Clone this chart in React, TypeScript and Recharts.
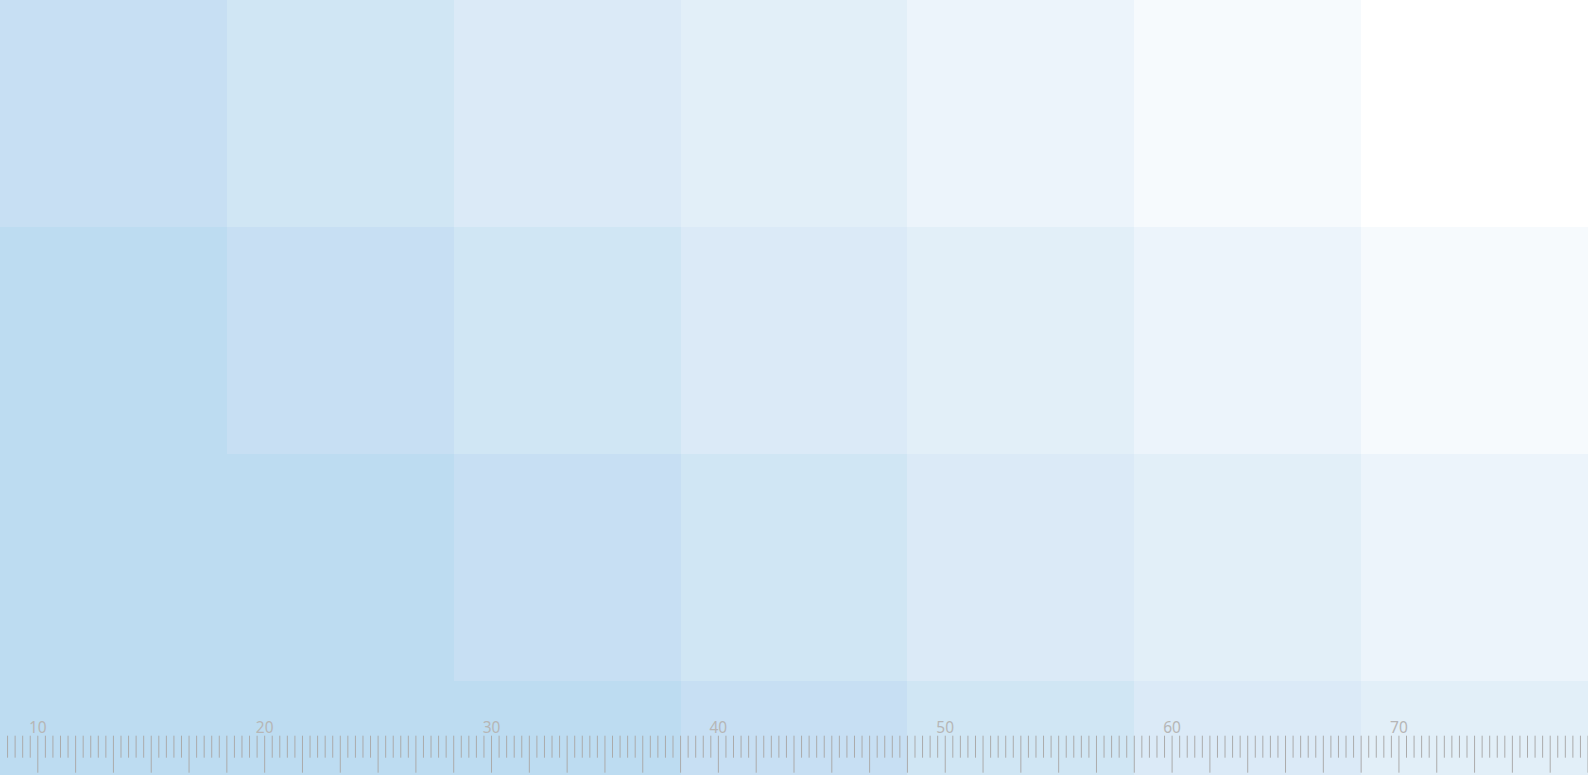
import { ComposedChart, Bar, Scatter, XAxis, YAxis, Cell } from 'recharts';

// heatmap columns (left to right) and the level of each cell, top row first
const columns = ['1', '2', '3', '4', '5', '6', '7'];
const row0 = [0, 1, 2, 3, 4, 5, 6];
const row1 = [-1, 0, 1, 2, 3, 4, 5];
const row2 = [-2, -1, 0, 1, 2, 3, 4];
const row3 = [-3, -2, -1, 0, 1, 2, 3];
const rows = [row0, row1, row2, row3];

// colour for each level, darkest first; anything below -1 uses the darkest
const levels = [-1, 0, 1, 2, 3, 4, 5, 6];
const levelColors = ['#BDDCF1', '#C7DFF3', '#D0E6F4', '#DBEAF7', '#E2EFF8', '#ECF4FB', '#F6FAFD', '#FFFFFF'];

// ruler along the bottom: 210 minor ticks, long every 5th, a label every 30th
const rulerTickCount = 210;
const rulerLabels = ['10', '20', '30', '40', '50', '60', '70'];
const rulerFirstLabelTick = 5;
const rulerLabelEvery = 30;

const WIDTH = 1588;
const HEIGHT = 775;
const RULER_AXIS_H = 1; // an axis of height 0 is not drawn, so it hangs 1px below the page
// plot shows only part of the last row
const visibleRows = HEIGHT / (WIDTH / columns.length);

const data = columns.map((c) => {
  const rec: Record<string, number | string> = { col: c };
  rows.forEach((_, j) => {
    rec['r' + j] = 1;
  });
  return rec;
});

const rulerTicks = Array.from({ length: rulerTickCount }, (_, i) => i + 1);
// two invisible points so the ruler axis has a series bound to it
const rulerAnchor = [
  { k: 0, y: 0 },
  { k: rulerTickCount, y: 0 },
];

function colorFor(v: number) {
  const idx = levels.indexOf(Math.max(v, levels[0]));
  return levelColors[idx];
}

function RulerTick({ x, y, payload }: any) {
  const k = payload.value;
  const long = k % 5 === 0;
  const li = (k - rulerFirstLabelTick) / rulerLabelEvery;
  const label = Number.isInteger(li) ? rulerLabels[li] : undefined;
  return (
    <g>
      <line
        x1={x}
        x2={x}
        y1={y - 39.3}
        y2={long ? y - 2.3 : y - 17.3}
        stroke="#ABABAB"
        strokeWidth={1}
      />
      {label && (
        <text
          x={x}
          y={y - 41.7}
          textAnchor="middle"
          fontSize={15.5}
          fill="#B6B6B6"
          fontFamily="'Noto Sans', sans-serif"
        >
          {label}
        </text>
      )}
    </g>
  );
}

export default function App() {
  return (
    <div
      style={{
        position: 'absolute',
        left: 0,
        top: 0,
        width: WIDTH,
        height: HEIGHT,
        overflow: 'hidden',
      }}
    >
      <style>{`body{margin:0}`}</style>
      <ComposedChart
        width={WIDTH}
        height={HEIGHT + RULER_AXIS_H}
        data={data}
        margin={{ top: 0, right: 0, bottom: 0, left: 0 }}
        barCategoryGap={0}
        barGap={0}
      >
        <XAxis dataKey="col" hide height={0} />
        <YAxis hide reversed domain={[0, visibleRows]} allowDataOverflow />
        <YAxis yAxisId="ruler" hide domain={[0, 1]} />
        {rows.map((r, j) => (
          <Bar key={j} dataKey={'r' + j} stackId="grid" isAnimationActive={false}>
            {r.map((v, i) => (
              <Cell key={i} fill={colorFor(v)} shapeRendering="crispEdges" />
            ))}
          </Bar>
        ))}
        <Scatter
          data={rulerAnchor}
          xAxisId="ruler"
          yAxisId="ruler"
          dataKey="y"
          shape={() => <g />}
          isAnimationActive={false}
        />
        <XAxis
          xAxisId="ruler"
          dataKey="k"
          type="number"
          domain={[0, rulerTickCount]}
          ticks={rulerTicks}
          interval={0}
          allowDataOverflow
          axisLine={false}
          tickLine={false}
          tickSize={0}
          tickMargin={0}
          height={RULER_AXIS_H}
          tick={<RulerTick />}
        />
      </ComposedChart>
    </div>
  );
}
